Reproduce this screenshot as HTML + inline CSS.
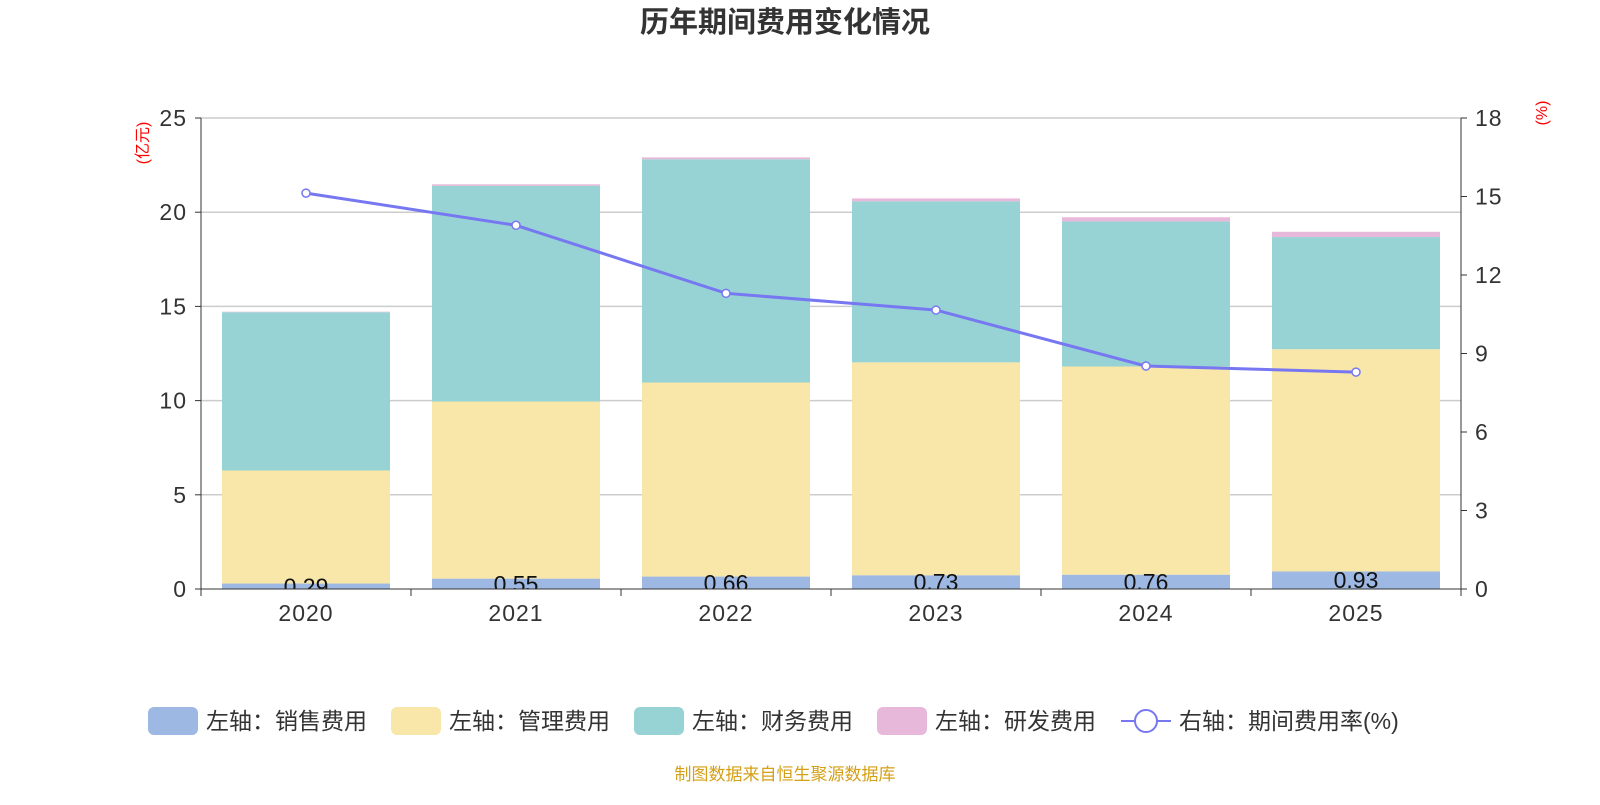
<!DOCTYPE html>
<html><head><meta charset="utf-8"><style>
body{margin:0;background:#fff;font-family:"Liberation Sans","Noto Sans CJK SC",sans-serif}
</style></head><body>
<svg id="c" width="1600" height="800" xmlns="http://www.w3.org/2000/svg" font-family="Liberation Sans, Noto Sans CJK SC, sans-serif">
<text x="785" y="32" text-anchor="middle" font-size="29" font-weight="bold" fill="#333">历年期间费用变化情况</text>
<text transform="translate(148,143) rotate(-90)" text-anchor="middle" font-size="16" fill="#f00">(亿元)</text>
<text transform="translate(1547,113) rotate(-90)" text-anchor="middle" font-size="16" fill="#f00">(%)</text>
<defs><clipPath id="pc"><rect x="201" y="100" width="1260" height="489"/></clipPath></defs>
<g id="grid"></g><g id="bars" clip-path="url(#pc)"></g><g id="axes"></g><g id="line"></g>
<g id="legend" font-size="23" fill="#333"></g>
<text x="785" y="780" text-anchor="middle" font-size="17" fill="#d4a017">制图数据来自恒生聚源数据库</text>
</svg>
<script>
const years=['2020','2021','2022','2023','2024','2025'];
const sales=[0.29,0.55,0.66,0.73,0.76,0.93];
const admin=[6.0,9.4,10.3,11.3,11.05,11.8];
const finance=[8.4,11.45,11.85,8.55,7.7,5.95];
const rd=[0.03,0.08,0.1,0.15,0.22,0.28];
const rate=[15.13,13.9,11.3,10.66,8.52,8.29];
const leftTicks=[0,5,10,15,20,25];
const rightTicks=[0,3,6,9,12,15,18];
const X0=201,X1=1461,Y0=589,Y1=118;
const bw=(X1-X0)/years.length;
const yL=v=>Y0-(v/25)*(Y0-Y1);
const yR=v=>Y0-(v/18)*(Y0-Y1);
const xC=i=>X0+bw*(i+0.5);
const NS='http://www.w3.org/2000/svg';
function mk(t,a,p){const e=document.createElementNS(NS,t);for(const k in a)e.setAttribute(k,a[k]);p.appendChild(e);return e;}
const G=document.getElementById('grid'),B=document.getElementById('bars'),A=document.getElementById('axes'),L=document.getElementById('line'),LG=document.getElementById('legend');
const tickStyle={'font-size':23,fill:'#333','letter-spacing':1};
leftTicks.forEach(v=>{if(v>0){const l=mk('line',{x1:X0,x2:X1,y1:yL(v),y2:yL(v),stroke:'#ccc','stroke-width':1.5},G);}
const t=mk('text',Object.assign({x:X0-14,y:yL(v)+8,'text-anchor':'end'},tickStyle),A);t.textContent=v;
mk('line',{x1:X0-6,x2:X0,y1:yL(v),y2:yL(v),stroke:'#333'},A);});
rightTicks.forEach(v=>{const t=mk('text',Object.assign({x:X1+14,y:yR(v)+8},tickStyle),A);t.textContent=v;
mk('line',{x1:X1,x2:X1+6,y1:yR(v),y2:yR(v),stroke:'#333'},A);});
mk('line',{x1:X0,x2:X0,y1:Y1,y2:Y0,stroke:'#333'},A);
mk('line',{x1:X1,x2:X1,y1:Y1,y2:Y0,stroke:'#333'},A);
mk('line',{x1:X0,x2:X1,y1:Y0,y2:Y0,stroke:'#333'},A);
for(let i=0;i<=years.length;i++)mk('line',{x1:X0+bw*i,x2:X0+bw*i,y1:Y0,y2:Y0+7,stroke:'#333'},A);
const series=[[sales,'#9db8e2','sales'],[admin,'#f8e7a8','admin'],[finance,'#97d3d4','finance'],[rd,'#e7b8d9','rd']];
years.forEach((y,i)=>{let base=0;const w=168;
series.forEach(([arr,col,n])=>{const v=arr[i];const r=mk('rect',{x:xC(i)-w/2,y:yL(base+v),width:w,height:yL(base)-yL(base+v),fill:col},B);base+=v;});
const t=mk('text',{x:xC(i),y:(yL(0)+yL(sales[i]))/2+8,'text-anchor':'middle','font-size':23,fill:'#111'},B);t.textContent=sales[i].toFixed(2);
const xt=mk('text',Object.assign({x:xC(i),y:Y0+32,'text-anchor':'middle'},tickStyle),A);xt.textContent=y;});
const pl=mk('polyline',{points:rate.map((v,i)=>xC(i)+','+yR(v)).join(' '),fill:'none',stroke:'#7777f2','stroke-width':3},L);

rate.forEach((v,i)=>{const c=mk('circle',{cx:xC(i),cy:yR(v),r:4,fill:'#fff',stroke:'#7777f2','stroke-width':1.5},L);});
const leg=[['左轴：销售费用','#9db8e2',148],['左轴：管理费用','#f8e7a8',391],['左轴：财务费用','#97d3d4',634],['左轴：研发费用','#e7b8d9',877]];
leg.forEach(([t,c,x])=>{const r=mk('rect',{x:x,y:707,width:50,height:28,rx:6,fill:c},LG);
const tx=mk('text',{x:x+58,y:729},LG);tx.textContent=t;});
mk('line',{x1:1121,x2:1171,y1:721,y2:721,stroke:'#7777f2','stroke-width':2},LG);
mk('circle',{cx:1146,cy:721,r:11,fill:'#fff',stroke:'#7777f2','stroke-width':2},LG);
const lt=mk('text',{x:1179,y:729},LG);lt.textContent='右轴：期间费用率(%)';
</script>
</body></html>
